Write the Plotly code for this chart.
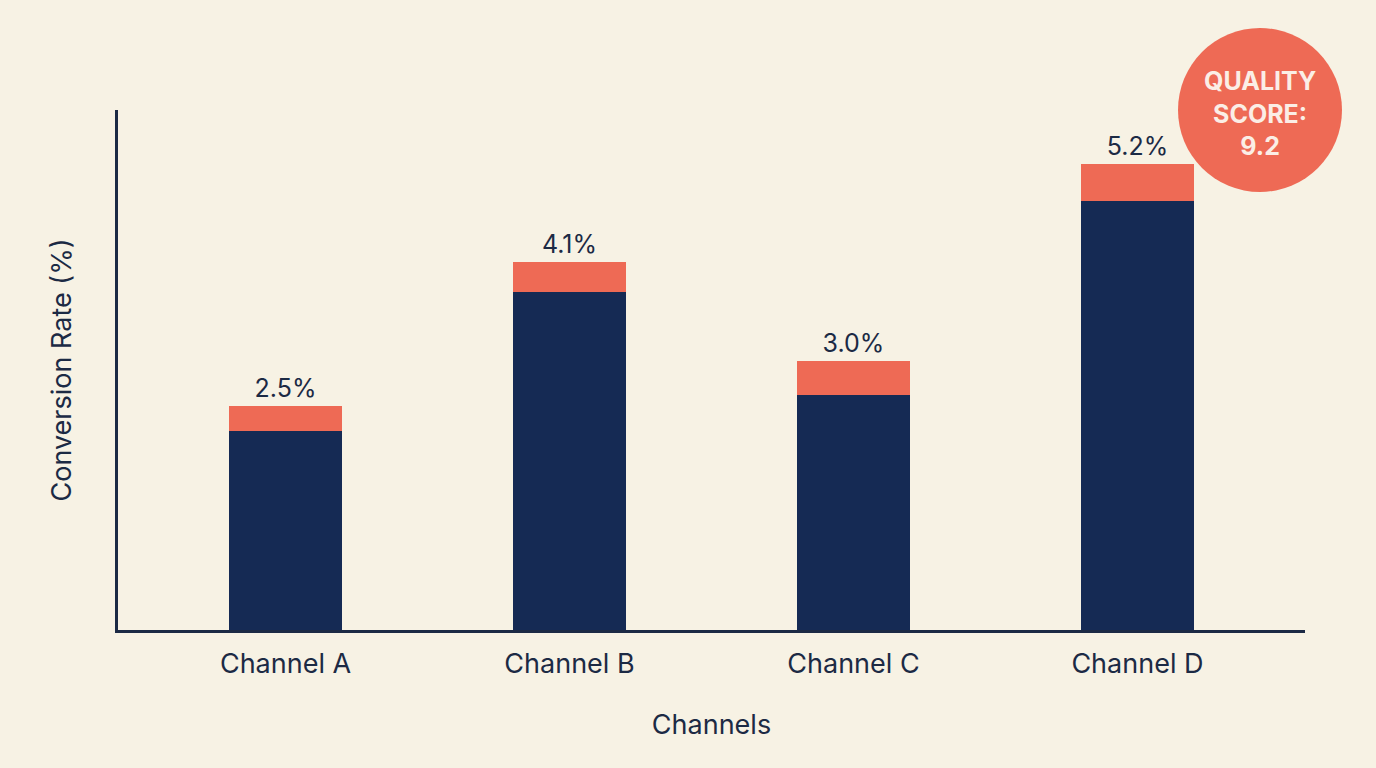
import plotly.graph_objects as go

# Data
channels = ["Channel A", "Channel B", "Channel C", "Channel D"]
totals = [2.5, 4.1, 3.0, 5.2]
top_part = [0.28, 0.33, 0.38, 0.42]
base_part = [t - p for t, p in zip(totals, top_part)]
labels = [f"{t:.1f}%" for t in totals]
badge_text = "QUALITY<br>SCORE:<br>9.2"

NAVY = "#152a54"
CORAL = "#ee6a55"
BG = "#f7f2e4"
INK = "#1c2a44"

W, H = 1376, 768
L, R, T, B = 118, 71, 110, 138

fig = go.Figure()
fig.add_trace(go.Bar(x=channels, y=base_part, marker=dict(color=NAVY, line_width=0),
                     width=0.4, hoverinfo="skip"))
fig.add_trace(go.Bar(x=channels, y=top_part, marker=dict(color=CORAL, line_width=0),
                     width=0.4, text=labels, textposition="outside",
                     textfont=dict(size=25, color=INK), cliponaxis=False,
                     hoverinfo="skip"))

# Badge circle (paper coords computed from pixel layout)
pw, ph = W - L - R, H - T - B
cx, cy, rad = 1260, 110, 82
fig.add_shape(type="circle", xref="paper", yref="paper",
              x0=(cx - rad - L) / pw, x1=(cx + rad - L) / pw,
              y0=(H - B - (cy + rad)) / ph, y1=(H - B - (cy - rad)) / ph,
              fillcolor=CORAL, line_width=0, layer="above")
fig.add_annotation(text=badge_text, xref="paper", yref="paper",
                   x=(cx - L) / pw, y=(H - B - cy - 4) / ph, showarrow=False,
                   font=dict(size=25, color="#fbeee6", family="Inter", weight="bold"),
                   align="center", xanchor="center", yanchor="middle")

fig.update_layout(
    barmode="stack", width=W, height=H, showlegend=False,
    paper_bgcolor=BG, plot_bgcolor=BG,
    margin=dict(l=L, r=R, t=T, b=B),
    font=dict(family="Inter", color=INK, size=27),
    xaxis=dict(title=dict(text="Channels", standoff=36, font=dict(size=27)),
               range=[-0.59, 3.59], showline=True, linecolor=INK, linewidth=3,
               ticks="", tickfont=dict(size=27), ticklabelstandoff=8, showgrid=False),
    yaxis=dict(title=dict(text="Conversion Rate (%)", standoff=36, font=dict(size=27)),
               range=[0, 5.8], showline=True, linecolor=INK, linewidth=3,
               showticklabels=False, ticks="", showgrid=False, zeroline=False),
)

fig.write_html("out.html", config={"displayModeBar": False}, post_script=(
    "document.body.style.margin='0';"
    "document.body.style.background='%s';" % BG))
